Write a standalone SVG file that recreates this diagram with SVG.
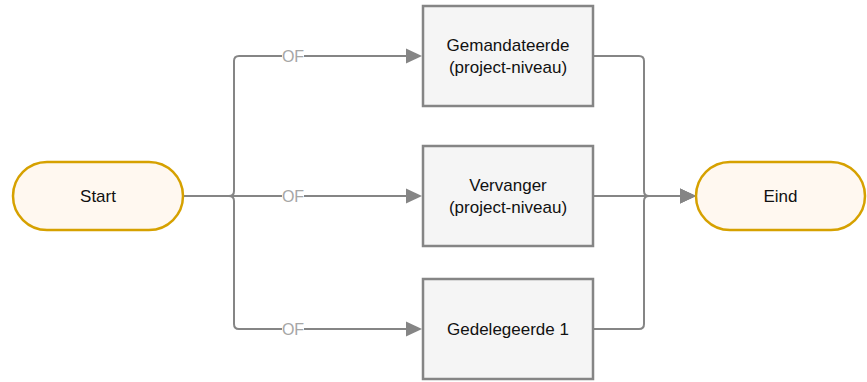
<svg xmlns="http://www.w3.org/2000/svg" width="867" height="382" viewBox="0 0 867 382">
<style>
.term{fill:#fff8f0;stroke:#d6a100;stroke-width:2.5}
.box{fill:#f5f5f5;stroke:#858585;stroke-width:2.5}
.lbl{font-family:"Liberation Sans",Arial,sans-serif;font-size:17px;fill:#111;text-anchor:middle}
.edge{fill:none;stroke:#858585;stroke-width:2}
.of{font-family:"Liberation Sans",Arial,sans-serif;font-size:16px;fill:#a6a6a6;text-anchor:middle}
.ofbg{fill:#ffffff}
</style>
<defs>
<marker id="arr" markerUnits="userSpaceOnUse" markerWidth="18" markerHeight="16" refX="4" refY="8" orient="auto">
<path d="M0,0.5 L16,8 L0,15.5 z" fill="#858585"/>
</marker>
</defs>
<rect width="867" height="382" fill="#ffffff"/>
<g id="connectors">
<path class="edge" d="M184,196 H229 Q234,196 234,191 V61 Q234,56 239,56 H410" marker-end="url(#arr)"/>
<path class="edge" d="M184,196 H410" marker-end="url(#arr)"/>
<path class="edge" d="M184,196 H229 Q234,196 234,201 V324 Q234,329 239,329 H410" marker-end="url(#arr)"/>
<path class="edge" d="M593,56 H639 Q644,56 644,61 V191 Q644,196 649,196 H684" marker-end="url(#arr)"/>
<path class="edge" d="M593,196 H684" marker-end="url(#arr)"/>
<path class="edge" d="M593,329 H639 Q644,329 644,324 V201 Q644,196 649,196 H684" marker-end="url(#arr)"/>
<rect class="ofbg" x="282" y="48" width="22" height="16"/>
<text class="of" x="293" y="61.5">OF</text>
<rect class="ofbg" x="282" y="188" width="22" height="16"/>
<text class="of" x="293" y="201.5">OF</text>
<rect class="ofbg" x="282" y="321" width="22" height="16"/>
<text class="of" x="293" y="334.5">OF</text>
</g>
<g id="start">
<rect class="term" x="13" y="162" width="170" height="68" rx="34" ry="34"/>
<text class="lbl" x="98" y="202">Start</text>
</g>
<g id="gemandateerde">
<rect class="box" x="423" y="6" width="170" height="100"/>
<text class="lbl" x="508" y="51">Gemandateerde</text>
<text class="lbl" x="508" y="73">(project-niveau)</text>
</g>
<g id="vervanger">
<rect class="box" x="423" y="146" width="170" height="100"/>
<text class="lbl" x="508" y="191">Vervanger</text>
<text class="lbl" x="508" y="213">(project-niveau)</text>
</g>
<g id="gedelegeerde">
<rect class="box" x="423" y="279" width="170" height="100"/>
<text class="lbl" x="508" y="335">Gedelegeerde 1</text>
</g>
<g id="eind">
<rect class="term" x="696" y="162" width="169" height="68" rx="34" ry="34"/>
<text class="lbl" x="780.5" y="202">Eind</text>
</g>
</svg>
